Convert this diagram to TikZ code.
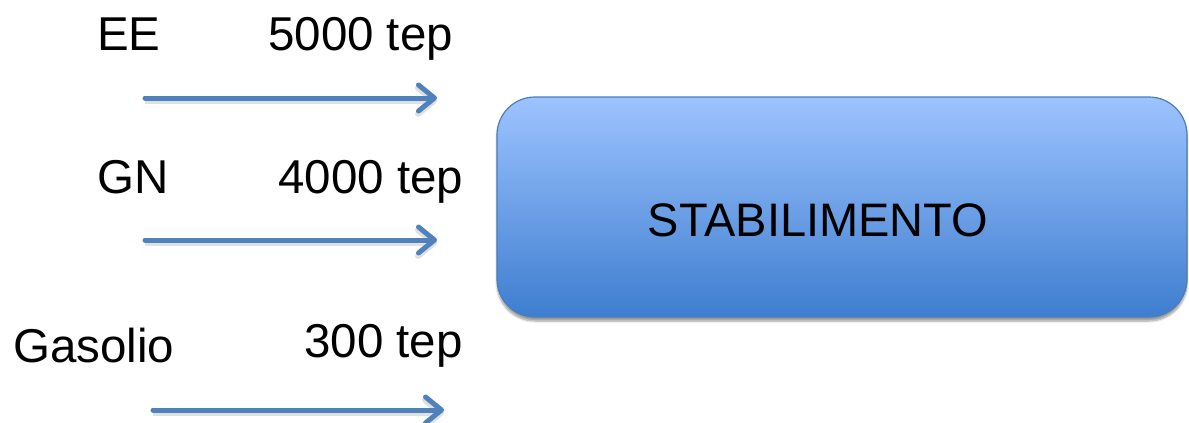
\documentclass[tikz,border=0pt]{standalone}
\usepackage{fontspec}
\setmainfont{Liberation Sans}
\usetikzlibrary{arrows.meta,shadows.blur}
\definecolor{arrowblue}{HTML}{4F81BD}
\definecolor{boxtop}{HTML}{9DC3FF}
\definecolor{boxbot}{HTML}{3E7ECF}
\definecolor{boxborder}{HTML}{4A7EBB}
\tikzset{
  lbl/.style={inner sep=0pt, anchor=base west, font=\fontsize{47.5}{52}\selectfont},
  flow/.style={draw=arrowblue, line width=5pt, line cap=round,
    -{Straight Barb[length=16pt,width=26pt,line cap=round,round]},
    preaction={draw=black!35, opacity=0.35, line width=6pt, transform canvas={yshift=-3pt}}},
  plant/.style={rounded corners=38pt, draw=boxborder, line width=1.2pt,
    top color=boxtop, bottom color=boxbot,
    blur shadow={shadow xshift=0pt, shadow yshift=-4pt, shadow blur steps=6, shadow opacity=40}}
}
\begin{document}
\begin{tikzpicture}[x=1pt,y=-1pt]
\useasboundingbox (0,0) rectangle (1189,423);
% labels
\node[lbl] (ee) at (97,50) {EE};
\node[lbl] (q1) at (268,50) {5000 tep};
\node[lbl] (gn) at (97,193) {GN};
\node[lbl] (q2) at (278,193) {4000 tep};
\node[lbl] (gas) at (13,362) {Gasolio};
\node[lbl] (q3) at (304,357) {300 tep};
% arrow end points
\coordinate (a1s) at (145,98);  \coordinate (a1e) at (437,98);
\coordinate (a2s) at (145,240); \coordinate (a2e) at (437,240);
\coordinate (a3s) at (153,410); \coordinate (a3e) at (444,410);
\draw[flow] (a1s) -- (a1e);
\draw[flow] (a2s) -- (a2e);
\draw[flow] (a3s) -- (a3e);
% box
\path[plant] (497,97) rectangle (1187,317);
\node[font=\fontsize{47}{52}\selectfont, inner sep=0pt, anchor=base] (st) at (818,236) {STABILIMENTO};
\end{tikzpicture}
\end{document}
